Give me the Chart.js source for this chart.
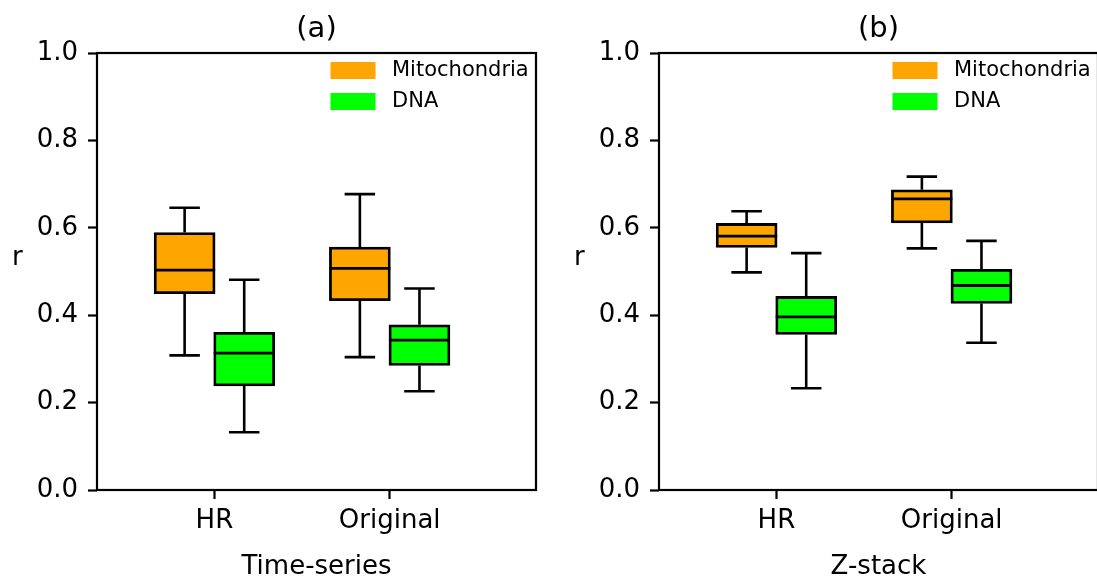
<!DOCTYPE html>
<html><head><meta charset="utf-8">
<script src="https://cdn.jsdelivr.net/npm/chart.js@4.4.0/dist/chart.umd.min.js"></script>
<style>
html,body{margin:0;padding:0;background:#fff;overflow:hidden;}
#wrap{position:relative;width:1097px;height:582px;overflow:hidden;background:#fff;}
canvas{position:absolute;top:0;}
</style></head><body>
<div id="wrap">
<canvas id="c1" width="560" height="582" style="left:0px"></canvas>
<canvas id="c2" width="560" height="582" style="left:562px"></canvas>
</div>
<script>
const categories = ['HR', 'Original'];
const seriesNames = ['Mitochondria', 'DNA'];
const seriesColors = ['#FFA500', '#00FF00'];
const panelTitles = ['(a)', '(b)'];
const panelXLabels = ['Time-series', 'Z-stack'];
const yTickValues = [0, 0.2, 0.4, 0.6, 0.8, 1.0];

// Panel (a) Time-series
const tsMitoLow    = [0.308, 0.304];
const tsMitoQ1     = [0.449, 0.433];
const tsMitoMedian = [0.503, 0.507];
const tsMitoQ3     = [0.589, 0.556];
const tsMitoHigh   = [0.646, 0.677];
const tsDnaLow     = [0.132, 0.226];
const tsDnaQ1      = [0.238, 0.285];
const tsDnaMedian  = [0.313, 0.343];
const tsDnaQ3      = [0.361, 0.378];
const tsDnaHigh    = [0.481, 0.461];

// Panel (b) Z-stack
const zsMitoLow    = [0.498, 0.553];
const zsMitoQ1     = [0.555, 0.611];
const zsMitoMedian = [0.581, 0.666];
const zsMitoQ3     = [0.610, 0.687];
const zsMitoHigh   = [0.638, 0.717];
const zsDnaLow     = [0.233, 0.337];
const zsDnaQ1      = [0.356, 0.427];
const zsDnaMedian  = [0.396, 0.468];
const zsDnaQ3      = [0.443, 0.505];
const zsDnaHigh    = [0.542, 0.570];

const FONT = "'DejaVu Sans', sans-serif";
const BOX_HALF = 0.17;   // box half-offset from category tick (x units)

function makeDataset(si, low, q1, med, q3, high) {
  const off = si === 0 ? -BOX_HALF : BOX_HALF;
  return {
    label: seriesNames[si],
    backgroundColor: seriesColors[si],
    borderColor: '#000',
    borderWidth: 2.8,
    borderSkipped: false,
    barThickness: 61,
    grouped: false,
    data: categories.map((c, j) => ({ x: j + 1 + off, y: [q1[j], q3[j]] })),
    stats: categories.map((c, j) => ({ low: low[j], q1: q1[j], med: med[j], q3: q3[j], high: high[j] }))
  };
}

const boxPlugin = {
  id: 'boxParts',
  beforeDatasetsDraw(chart) {
    const ctx = chart.ctx, ys = chart.scales.y;
    ctx.save();
    ctx.strokeStyle = '#000';
    ctx.lineWidth = 2.6;
    chart.data.datasets.forEach((ds, i) => {
      const meta = chart.getDatasetMeta(i);
      meta.data.forEach((el, j) => {
        const s = ds.stats[j];
        const cx = el.x, cap = el.width / 4;
        const pLow = ys.getPixelForValue(s.low), pQ1 = ys.getPixelForValue(s.q1);
        const pQ3 = ys.getPixelForValue(s.q3), pHigh = ys.getPixelForValue(s.high);
        ctx.beginPath();
        ctx.moveTo(cx, pQ3); ctx.lineTo(cx, pHigh);
        ctx.moveTo(cx - cap, pHigh); ctx.lineTo(cx + cap, pHigh);
        ctx.moveTo(cx, pQ1); ctx.lineTo(cx, pLow);
        ctx.moveTo(cx - cap, pLow); ctx.lineTo(cx + cap, pLow);
        ctx.stroke();
      });
    });
    ctx.restore();
  },
  afterDatasetsDraw(chart) {
    const ctx = chart.ctx, ys = chart.scales.y;
    ctx.save();
    ctx.strokeStyle = '#000';
    ctx.lineWidth = 2.8;
    chart.data.datasets.forEach((ds, i) => {
      const meta = chart.getDatasetMeta(i);
      meta.data.forEach((el, j) => {
        const pm = ys.getPixelForValue(ds.stats[j].med);
        ctx.beginPath();
        ctx.moveTo(el.x - el.width / 2, pm); ctx.lineTo(el.x + el.width / 2, pm);
        ctx.stroke();
      });
    });
    // frame
    const a = chart.chartArea;
    ctx.lineWidth = 2.2;
    ctx.strokeRect(a.left, a.top, a.right - a.left, a.bottom - a.top);
    // legend
    const lx = a.left + 233.5;
    chart.data.datasets.forEach((ds, i) => {
      const ty = a.top + 9 + i * 31;
      ctx.fillStyle = ds.backgroundColor;
      ctx.fillRect(lx, ty, 45, 17);
      ctx.fillStyle = '#000';
      ctx.font = '21px ' + FONT;
      ctx.textBaseline = 'middle';
      ctx.textAlign = 'left';
      ctx.fillText(ds.label, lx + 61.5, ty + 9);
    });
    // panel title
    ctx.font = '29px ' + FONT;
    ctx.textAlign = 'center';
    ctx.textBaseline = 'middle';
    ctx.fillText(chart.options.plugins.panelTitle, (a.left + a.right) / 2, 29);
    // y label (upright)
    ctx.font = '26px ' + FONT;
    ctx.textAlign = 'left';
    ctx.textBaseline = 'alphabetic';
    ctx.fillText('r', a.left - 85, 265);
    ctx.restore();
  }
};

function makeChart(id, pi, datasets) {
  return new Chart(document.getElementById(id), {
    type: 'bar',
    data: { datasets },
    plugins: [boxPlugin],
    options: {
      responsive: false,
      animation: false,
      events: [],
      layout: { padding: { top: 53, right: 24, left: 0, bottom: 0 } },
      plugins: { legend: { display: false }, tooltip: { enabled: false }, panelTitle: panelTitles[pi] },
      scales: {
        x: {
          type: 'linear', offset: false, min: 0.33, max: 2.835,
          afterBuildTicks: s => { s.ticks = categories.map((c, j) => ({ value: j + 1 })); },
          afterFit: s => { s.height = 92; },
          grid: { display: true, drawOnChartArea: false, drawTicks: true, tickLength: 9, tickWidth: 2.2, tickColor: '#000', offset: false },
          border: { display: false },
          ticks: { color: '#000', font: { family: FONT, size: 26 }, padding: 7, maxRotation: 0, autoSkip: false,
                   callback: v => categories[Math.round(v) - 1] },
          title: { display: true, text: panelXLabels[pi], color: '#000', font: { family: FONT, size: 26 }, padding: { top: 0, bottom: -1 } }
        },
        y: {
          min: 0, max: 1,
          afterBuildTicks: s => { s.ticks = yTickValues.map(v => ({ value: v })); },
          afterFit: s => { s.width = 97; },
          grid: { display: true, drawOnChartArea: false, drawTicks: true, tickLength: 9, tickWidth: 2.2, tickColor: '#000' },
          border: { display: false },
          ticks: { color: '#000', font: { family: FONT, size: 26 }, padding: 10, callback: v => v.toFixed(1) }
        }
      }
    }
  });
}

makeChart('c1', 0, [
  makeDataset(0, tsMitoLow, tsMitoQ1, tsMitoMedian, tsMitoQ3, tsMitoHigh),
  makeDataset(1, tsDnaLow, tsDnaQ1, tsDnaMedian, tsDnaQ3, tsDnaHigh)
]);
makeChart('c2', 1, [
  makeDataset(0, zsMitoLow, zsMitoQ1, zsMitoMedian, zsMitoQ3, zsMitoHigh),
  makeDataset(1, zsDnaLow, zsDnaQ1, zsDnaMedian, zsDnaQ3, zsDnaHigh)
]);
</script>
</body></html>
